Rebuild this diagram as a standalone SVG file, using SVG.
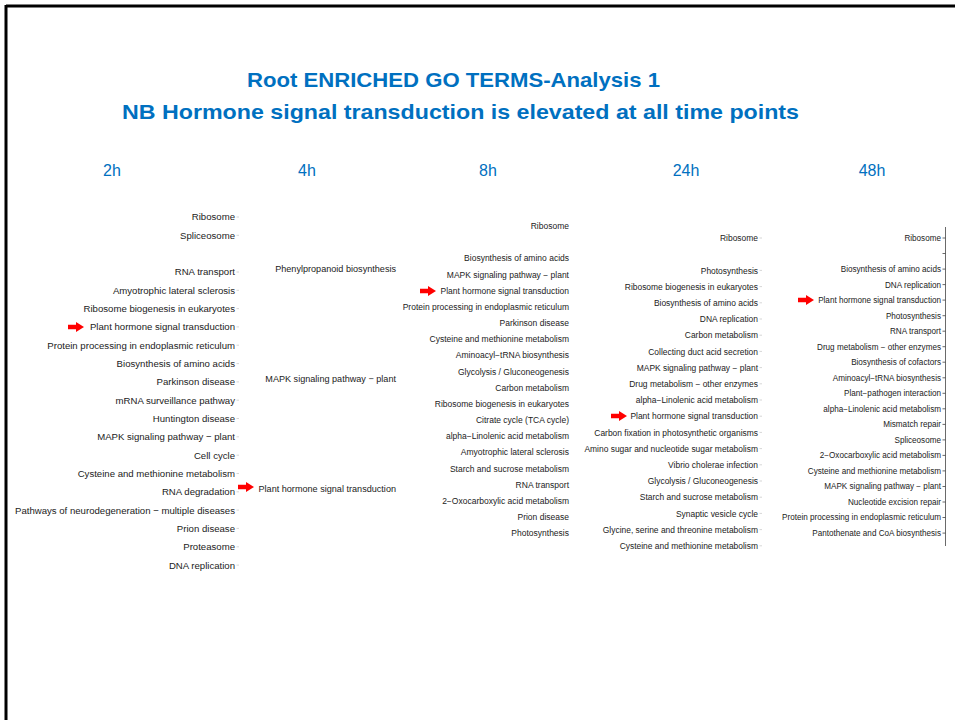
<svg xmlns="http://www.w3.org/2000/svg" width="955" height="720" viewBox="0 0 955 720">
<style>
.t{font-family:"Liberation Sans",Arial,sans-serif;fill:#222;text-anchor:end}
.c1{font-size:9.6px}.c2{font-size:9.1px}.c3{font-size:8.5px}.c4{font-size:8.45px}.c5{font-size:8.15px}
.hd{font-family:"Liberation Sans",Arial,sans-serif;font-size:16px;fill:#0070C0;text-anchor:middle}
.ti{font-family:"Liberation Sans",Arial,sans-serif;font-size:21px;font-weight:bold;fill:#0070C0}
.tk{stroke:#bbb;stroke-width:0.6}
.tk5{stroke:#444;stroke-width:0.8}
</style>
<defs>
<path id="arr" d="M0,-2.3 H8 V-5 L16,0 L8,5 V2.3 H0 Z" fill="#FF0000"/>
</defs>
<rect x="0" y="0" width="955" height="720" fill="#fff"/>
<g id="frame">
<line x1="6" y1="6" x2="955" y2="6" stroke="#000" stroke-width="3"/>
<line x1="6" y1="5" x2="6" y2="720" stroke="#000" stroke-width="3"/>
</g>
<g id="title">
<text class="ti" x="247" y="87" textLength="413" lengthAdjust="spacingAndGlyphs">Root ENRICHED GO TERMS-Analysis 1</text>
<text class="ti" x="122" y="119" textLength="677" lengthAdjust="spacingAndGlyphs">NB Hormone signal transduction is elevated at all time points</text>
</g>
<g id="headers">
<text class="hd" x="112" y="176">2h</text>
<text class="hd" x="307" y="176">4h</text>
<text class="hd" x="488" y="176">8h</text>
<text class="hd" x="686" y="176">24h</text>
<text class="hd" x="872" y="176">48h</text>
</g>
<g id="col-2h">
<text class="t c1" x="235" y="220.4">Ribosome</text>
<text class="t c1" x="235" y="238.7">Spliceosome</text>
<text class="t c1" x="235" y="275.4">RNA transport</text>
<text class="t c1" x="235" y="293.7">Amyotrophic lateral sclerosis</text>
<text class="t c1" x="235" y="312.0">Ribosome biogenesis in eukaryotes</text>
<text class="t c1" x="235" y="330.3">Plant hormone signal transduction</text>
<text class="t c1" x="235" y="348.6">Protein processing in endoplasmic reticulum</text>
<text class="t c1" x="235" y="367.0">Biosynthesis of amino acids</text>
<text class="t c1" x="235" y="385.3">Parkinson disease</text>
<text class="t c1" x="235" y="403.6">mRNA surveillance pathway</text>
<text class="t c1" x="235" y="421.9">Huntington disease</text>
<text class="t c1" x="235" y="440.2">MAPK signaling pathway − plant</text>
<text class="t c1" x="235" y="458.6">Cell cycle</text>
<text class="t c1" x="235" y="476.9">Cysteine and methionine metabolism</text>
<text class="t c1" x="235" y="495.2">RNA degradation</text>
<text class="t c1" x="235" y="513.5">Pathways of neurodegeneration − multiple diseases</text>
<text class="t c1" x="235" y="531.8">Prion disease</text>
<text class="t c1" x="235" y="550.2">Proteasome</text>
<text class="t c1" x="235" y="568.5">DNA replication</text>
<path class="tk" d="M236.5,217H239M236.5,235.3H239M236.5,272H239M236.5,290.3H239M236.5,308.6H239M236.5,326.9H239M236.5,345.2H239M236.5,363.6H239M236.5,381.9H239M236.5,400.2H239M236.5,418.5H239M236.5,436.8H239M236.5,455.2H239M236.5,473.5H239M236.5,491.8H239M236.5,510.1H239M236.5,528.4H239M236.5,546.8H239M236.5,565.1H239"/>
</g>
<g id="col-4h">
<text class="t c2" x="396" y="272.3">Phenylpropanoid biosynthesis</text>
<text class="t c2" x="396" y="382.3">MAPK signaling pathway − plant</text>
<text class="t c2" x="396" y="491.8">Plant hormone signal transduction</text>
</g>
<g id="col-8h">
<text class="t c3" x="569" y="229.1">Ribosome</text>
<text class="t c3" x="569" y="261.4">Biosynthesis of amino acids</text>
<text class="t c3" x="569" y="277.6">MAPK signaling pathway − plant</text>
<text class="t c3" x="569" y="293.7">Plant hormone signal transduction</text>
<text class="t c3" x="569" y="309.9">Protein processing in endoplasmic reticulum</text>
<text class="t c3" x="569" y="326.1">Parkinson disease</text>
<text class="t c3" x="569" y="342.2">Cysteine and methionine metabolism</text>
<text class="t c3" x="569" y="358.4">Aminoacyl−tRNA biosynthesis</text>
<text class="t c3" x="569" y="374.5">Glycolysis / Gluconeogenesis</text>
<text class="t c3" x="569" y="390.7">Carbon metabolism</text>
<text class="t c3" x="569" y="406.9">Ribosome biogenesis in eukaryotes</text>
<text class="t c3" x="569" y="423.0">Citrate cycle (TCA cycle)</text>
<text class="t c3" x="569" y="439.2">alpha−Linolenic acid metabolism</text>
<text class="t c3" x="569" y="455.3">Amyotrophic lateral sclerosis</text>
<text class="t c3" x="569" y="471.5">Starch and sucrose metabolism</text>
<text class="t c3" x="569" y="487.7">RNA transport</text>
<text class="t c3" x="569" y="503.8">2−Oxocarboxylic acid metabolism</text>
<text class="t c3" x="569" y="520.0">Prion disease</text>
<text class="t c3" x="569" y="536.1">Photosynthesis</text>
</g>
<g id="col-24h">
<text class="t c4" x="758" y="241.1">Ribosome</text>
<text class="t c4" x="758" y="273.5">Photosynthesis</text>
<text class="t c4" x="758" y="289.7">Ribosome biogenesis in eukaryotes</text>
<text class="t c4" x="758" y="305.9">Biosynthesis of amino acids</text>
<text class="t c4" x="758" y="322.1">DNA replication</text>
<text class="t c4" x="758" y="338.3">Carbon metabolism</text>
<text class="t c4" x="758" y="354.5">Collecting duct acid secretion</text>
<text class="t c4" x="758" y="370.7">MAPK signaling pathway − plant</text>
<text class="t c4" x="758" y="386.9">Drug metabolism − other enzymes</text>
<text class="t c4" x="758" y="403.1">alpha−Linolenic acid metabolism</text>
<text class="t c4" x="758" y="419.3">Plant hormone signal transduction</text>
<text class="t c4" x="758" y="435.5">Carbon fixation in photosynthetic organisms</text>
<text class="t c4" x="758" y="451.7">Amino sugar and nucleotide sugar metabolism</text>
<text class="t c4" x="758" y="467.9">Vibrio cholerae infection</text>
<text class="t c4" x="758" y="484.1">Glycolysis / Gluconeogenesis</text>
<text class="t c4" x="758" y="500.3">Starch and sucrose metabolism</text>
<text class="t c4" x="758" y="516.5">Synaptic vesicle cycle</text>
<text class="t c4" x="758" y="532.7">Glycine, serine and threonine metabolism</text>
<text class="t c4" x="758" y="548.9">Cysteine and methionine metabolism</text>
<path class="tk" d="M759.5,238H762M759.5,270.4H762M759.5,286.6H762M759.5,302.8H762M759.5,319H762M759.5,335.2H762M759.5,351.4H762M759.5,367.6H762M759.5,383.8H762M759.5,400H762M759.5,416.2H762M759.5,432.4H762M759.5,448.6H762M759.5,464.8H762M759.5,481H762M759.5,497.2H762M759.5,513.4H762M759.5,529.6H762M759.5,545.8H762"/>
</g>
<g id="col-48h">
<text class="t c5" x="941" y="240.9">Ribosome</text>
<text class="t c5" x="941" y="272.0">Biosynthesis of amino acids</text>
<text class="t c5" x="941" y="287.5">DNA replication</text>
<text class="t c5" x="941" y="303.0">Plant hormone signal transduction</text>
<text class="t c5" x="941" y="318.6">Photosynthesis</text>
<text class="t c5" x="941" y="334.1">RNA transport</text>
<text class="t c5" x="941" y="349.6">Drug metabolism − other enzymes</text>
<text class="t c5" x="941" y="365.1">Biosynthesis of cofactors</text>
<text class="t c5" x="941" y="380.7">Aminoacyl−tRNA biosynthesis</text>
<text class="t c5" x="941" y="396.2">Plant−pathogen interaction</text>
<text class="t c5" x="941" y="411.7">alpha−Linolenic acid metabolism</text>
<text class="t c5" x="941" y="427.3">Mismatch repair</text>
<text class="t c5" x="941" y="442.8">Spliceosome</text>
<text class="t c5" x="941" y="458.3">2−Oxocarboxylic acid metabolism</text>
<text class="t c5" x="941" y="473.8">Cysteine and methionine metabolism</text>
<text class="t c5" x="941" y="489.4">MAPK signaling pathway − plant</text>
<text class="t c5" x="941" y="504.9">Nucleotide excision repair</text>
<text class="t c5" x="941" y="520.4">Protein processing in endoplasmic reticulum</text>
<text class="t c5" x="941" y="536.0">Pantothenate and CoA biosynthesis</text>
<path class="tk5" d="M942.5,238H945.5M942.5,253.5H945.5M942.5,269.1H945.5M942.5,284.6H945.5M942.5,300.1H945.5M942.5,315.7H945.5M942.5,331.2H945.5M942.5,346.7H945.5M942.5,362.2H945.5M942.5,377.8H945.5M942.5,393.3H945.5M942.5,408.8H945.5M942.5,424.4H945.5M942.5,439.9H945.5M942.5,455.4H945.5M942.5,470.9H945.5M942.5,486.5H945.5M942.5,502H945.5M942.5,517.5H945.5M942.5,533.1H945.5"/>
<line x1="945.5" y1="227" x2="945.5" y2="546" stroke="#444" stroke-width="0.8"/>
</g>
<g id="arrows">
<use href="#arr" x="68" y="327"/>
<use href="#arr" x="238" y="487"/>
<use href="#arr" x="420" y="291"/>
<use href="#arr" x="611" y="416"/>
<use href="#arr" x="798" y="300"/>
</g>
</svg>
